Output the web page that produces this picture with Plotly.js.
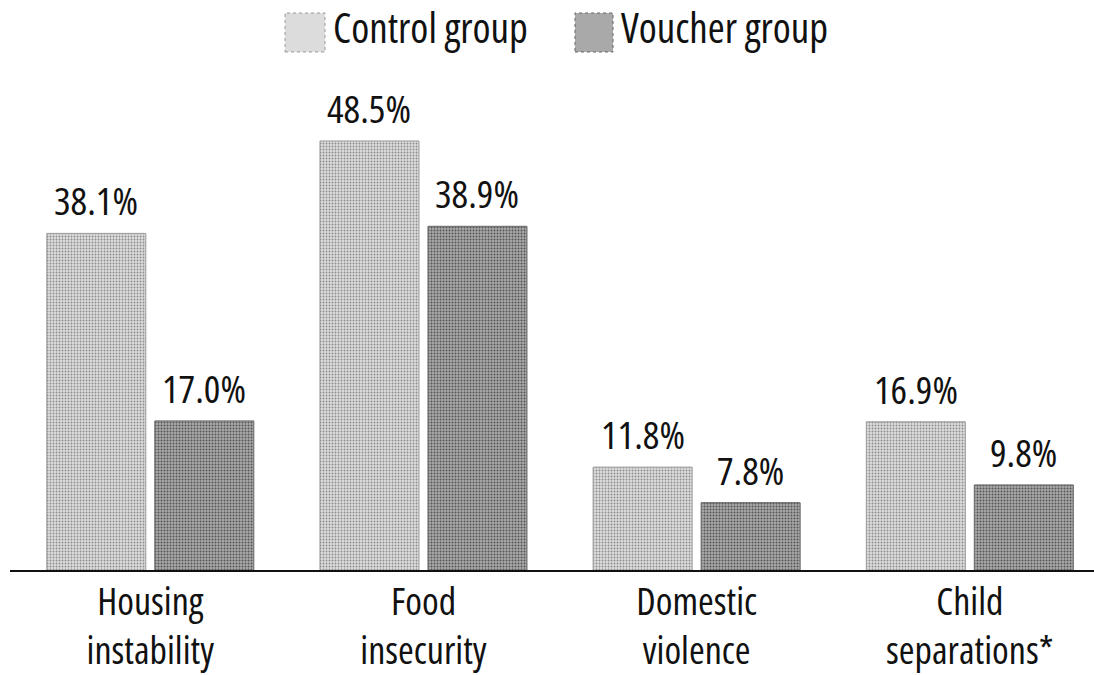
<!DOCTYPE html>
<html>
<head>
<meta charset="utf-8">
<script src="https://cdn.plot.ly/plotly-3.0.1.min.js"></script>
<style>
html,body{margin:0;padding:0;background:#fff;}
#chart{width:1094px;height:675px;}
svg text{font-stretch:75% !important;}
</style>
</head>
<body>
<div id="chart"></div>
<script>
const categories = ["Housing<br>instability", "Food<br>insecurity", "Domestic<br>violence", "Child<br>separations*"];
const seriesNames = ["Control group", "Voucher group"];
const controlValues = [38.1, 48.5, 11.8, 16.9];
const voucherValues = [17.0, 38.9, 7.8, 9.8];

const FONT = "'Open Sans', 'DejaVu Sans Condensed', sans-serif";
const styles = [
  {bg: "#dcdcdc", fg: "#8c8c8c", size: 3, solidity: 0.3, line: "#9a9a9a"},
  {bg: "#a9a9a9", fg: "#555555", size: 3, solidity: 0.35, line: "#666666"}
];
const allValues = [controlValues, voucherValues];

const traces = allValues.map((vals, k) => ({
  type: "bar",
  name: seriesNames[k],
  x: categories,
  y: vals,
  marker: {
    color: styles[k].bg,
    pattern: {shape: ".", fgcolor: styles[k].fg, bgcolor: styles[k].bg, size: styles[k].size, solidity: styles[k].solidity},
    line: {color: styles[k].line, width: 1}
  },
  hoverinfo: "skip",
  showlegend: false
}));

const slotHalf = 0.1977;
const annotations = [];
allValues.forEach((vals, k) => {
  vals.forEach((v, i) => {
    annotations.push({
      x: i + (k === 0 ? -slotHalf : slotHalf), y: v, xref: "x", yref: "y",
      text: v.toFixed(1) + "%", showarrow: false, yanchor: "bottom", yshift: 5,
      font: {family: FONT, size: 39, color: "#111"}
    });
  });
});

// custom legend
const legendBoxes = [[0.2537, 0.2906], [0.5212, 0.5563]];
const legendText = [0.2960, 0.5620];
const shapes = [];
seriesNames.forEach((n, k) => {
  shapes.push({type: "rect", xref: "paper", yref: "paper", x0: legendBoxes[k][0], x1: legendBoxes[k][1],
    y0: 1.1017, y1: 1.1843, fillcolor: styles[k].bg, line: {color: styles[k].line, width: 1, dash: "dot"}});
  annotations.push({xref: "paper", yref: "paper", x: legendText[k], y: 1.1545, xanchor: "left", yanchor: "middle",
    text: n, showarrow: false, font: {family: FONT, size: 41, color: "#111"}});
});
shapes.push({type: "line", xref: "paper", yref: "y", x0: 0, x1: 1, y0: 0, y1: 0, line: {color: "#111", width: 4}, layer: "above"});

const layout = {
  width: 1094, height: 675,
  margin: {l: 10, r: 0, t: 100, b: 103},
  paper_bgcolor: "#fff", plot_bgcolor: "#fff",
  barmode: "group", bargap: 0.2093, bargroupgap: 0.0833,
  xaxis: {type: "category", range: [-0.5136, 3.4546], showline: false, ticks: "", showgrid: false,
    tickfont: {family: FONT, size: 38, color: "#111"}, ticklabelstandoff: 4},
  yaxis: {range: [0, 53.11], visible: false, showgrid: false, zeroline: false},
  showlegend: false,
  annotations: annotations,
  shapes: shapes
};

Plotly.newPlot("chart", traces, layout, {staticPlot: true});
</script>
</body>
</html>
